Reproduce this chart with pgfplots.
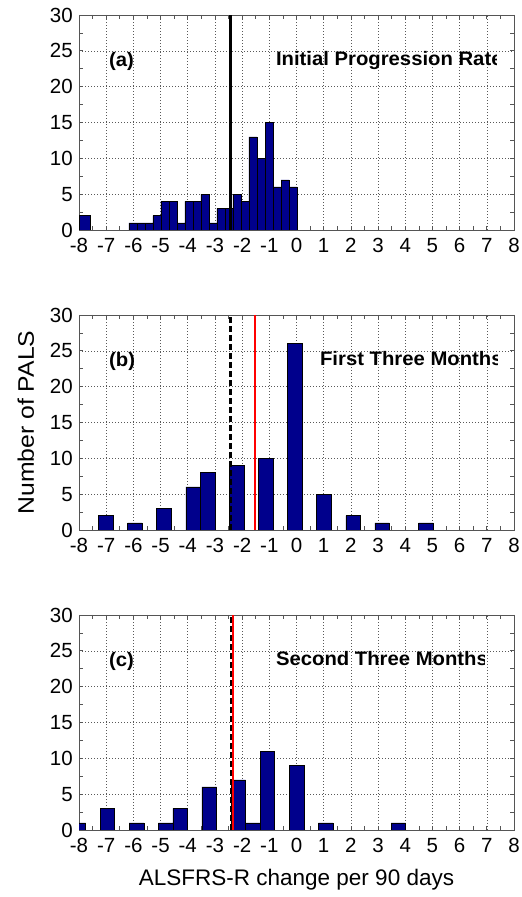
\documentclass[border=0pt]{standalone}
\usepackage{fontspec}
\setmainfont{Liberation Sans}
\newfontfamily\widesans{Liberation Sans}[FakeStretch=1.04]
\newfontfamily\labelsans{Liberation Sans}[FakeStretch=1.1]
\usepackage{pgfplots}
\pgfplotsset{compat=1.18}

\definecolor{barblue}{RGB}{0,0,140}
\definecolor{axisgray}{RGB}{85,85,85}

\pgfplotsset{
  panel/.style={
    width=435pt, height=215pt, scale only axis,
    xmin=-8, xmax=8, ymin=0, ymax=30,
    xtick={-8,-7,-6,-5,-4,-3,-2,-1,0,1,2,3,4,5,6,7,8},
    xticklabels={-8,-7,-6,-5,-4,-3,-2,-1,0,1,2,3,4,5,6,7,8},
    ytick={0,5,10,15,20,25,30},
    minor xtick={-7.5,-6.5,...,7.5},
    minor ytick={2.5,7.5,...,27.5},
    tick align=inside, tick pos=both,
    major tick length=4pt, minor tick length=4pt,
    xmajorgrids, ymajorgrids,
    major grid style={black!65, line width=0.6pt, dash pattern=on 0.8pt off 2.2pt},
    axis line style={axisgray, line width=0.8pt},
    every tick/.style={axisgray, line width=0.7pt},
    tick label style={font=\fontsize{20.5}{23}\selectfont, inner sep=1pt},
    xticklabel style={text height=0.72em, text depth=0.05em, yshift=-14pt},
    yticklabel style={xshift=-5pt},
    /pgf/number format/assume math mode=true,
  },
  histbar/.style={ybar, bar shift=0pt, fill=barblue, draw=black, line width=0.4pt},
}
\tikzset{
  paneltext/.style={anchor=base west, inner sep=0pt, font=\widesans\bfseries\fontsize{19.5}{22}\selectfont},
}

\begin{document}
\begin{tikzpicture}
\useasboundingbox (0pt,0pt) rectangle (522pt,897pt);

% (a) initial progression rate
\begin{axis}[panel, at={(79pt,667pt)}, anchor=south west]
  \addplot[histbar, bar width=0.42] coordinates {(-7.79,2)};
  \addplot[histbar, bar width=0.2947] coordinates {
    (-6.021,1) (-5.727,1) (-5.432,1) (-5.137,2) (-4.842,4) (-4.548,4)
    (-4.253,1) (-3.958,4) (-3.663,4) (-3.369,5) (-3.074,1) (-2.779,3)
    (-2.485,3) (-2.190,5) (-1.895,4) (-1.600,13) (-1.306,10) (-1.011,15)
    (-0.716,6) (-0.421,7) (-0.127,6)};
  \addplot[black, line width=2.7pt] coordinates {(-2.42,0) (-2.42,30)};
  \node[paneltext] at (axis cs:-6.9,22.8) {(a)};
  \begin{scope}
    \clip (axis cs:-8,0) rectangle (axis cs:7.36,30);
    \node[paneltext] at (axis cs:-0.76,23.0) {Initial Progression Rate};
  \end{scope}
\end{axis}

% (b) first three months
\begin{axis}[panel, at={(79pt,367pt)}, anchor=south west,
  ylabel={Number of PALS},
  ylabel style={at={(axis description cs:-0.122,0.5)}, anchor=center,
    font=\labelsans\fontsize{22.5}{25}\selectfont}]
  \addplot[histbar, bar width=0.535] coordinates {
    (-7.015,2) (-5.945,1) (-4.875,3) (-3.805,6) (-3.27,8) (-2.20,9)
    (-1.13,10) (-0.06,26) (1.01,5) (2.08,2) (3.15,1) (4.755,1)};
  \addplot[black, line width=2.7pt, dash pattern=on 6pt off 3pt] coordinates {(-2.42,0) (-2.42,30)};
  \addplot[red, line width=2.6pt] coordinates {(-1.52,0) (-1.52,30)};
  \node[paneltext] at (axis cs:-6.9,22.8) {(b)};
  \begin{scope}
    \clip (axis cs:-8,0) rectangle (axis cs:7.38,30);
    \node[paneltext] at (axis cs:0.86,23.0) {First Three Months};
  \end{scope}
\end{axis}

% (c) second three months
\begin{axis}[panel, at={(79pt,67pt)}, anchor=south west,
  xlabel={ALSFRS-R change per 90 days},
  xlabel style={at={(axis description cs:0.5,0)}, anchor=base, yshift=-56pt,
    font=\fontsize{22.5}{25}\selectfont}]
  \addplot[histbar, bar width=0.535] coordinates {
    (-8.025,1) (-6.955,3) (-5.885,1) (-4.815,1) (-4.28,3) (-3.21,6)
    (-2.14,7) (-1.605,1) (-1.07,11) (0,9) (1.07,1) (3.745,1)};
  \addplot[black, line width=2.7pt, dash pattern=on 6pt off 3pt] coordinates {(-2.41,0) (-2.41,30)};
  \addplot[red, line width=2.6pt] coordinates {(-2.33,0) (-2.33,30)};
  \node[paneltext] at (axis cs:-6.9,22.8) {(c)};
  \begin{scope}
    \clip (axis cs:-8,0) rectangle (axis cs:6.92,30);
    \node[paneltext] at (axis cs:-0.76,23.0) {Second Three Months};
  \end{scope}
\end{axis}
\end{tikzpicture}
\end{document}
